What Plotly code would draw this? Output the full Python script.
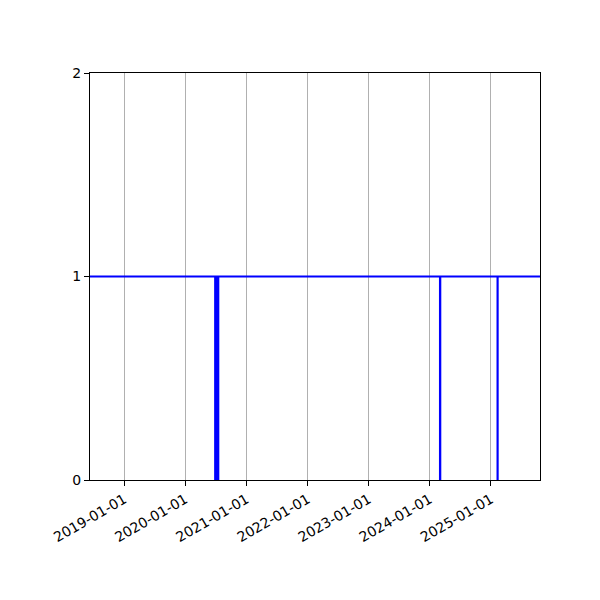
import plotly.graph_objects as go

# change points of the on/off series (step shape); the mid-2020 outage is a dense cluster
dates = ['2018-06-10', '2020-06-27', '2020-07-04', '2020-07-09', '2020-07-16',
         '2024-03-02', '2024-03-04', '2025-02-09', '2025-02-10', '2025-10-21']
values = [1, 0, 1, 0, 1, 0, 1, 0, 1, 1]

tick_dates = ['2019-01-01', '2020-01-01', '2021-01-01', '2022-01-01',
              '2023-01-01', '2024-01-01', '2025-01-01']
y_ticks = [0, 1, 2]

fig = go.Figure()
fig.add_trace(go.Scatter(x=dates, y=values, mode='lines', line_shape='hv',
                         line=dict(color='#0000ff', width=2), showlegend=False))

fig.update_layout(
    width=600, height=600,
    margin=dict(l=82, r=68, t=65, b=128),
    paper_bgcolor='white', plot_bgcolor='white',
    font=dict(family='DejaVu Sans', size=14, color='black'),
)
fig.update_xaxes(
    type='date', range=[dates[0], dates[-1]],
    tickvals=tick_dates, ticktext=tick_dates, tickangle=-30,
    showgrid=True, gridcolor='#b0b0b0', gridwidth=1,
    showline=True, linecolor='black', linewidth=1, mirror=True,
    ticks='outside', ticklen=5, tickcolor='black', zeroline=False,
)
fig.update_yaxes(
    range=[0, 2], tickvals=y_ticks, showgrid=False,
    showline=True, linecolor='black', linewidth=1, mirror=True,
    ticks='outside', ticklen=5, tickcolor='black', zeroline=False,
)
fig.write_html('out.html')
